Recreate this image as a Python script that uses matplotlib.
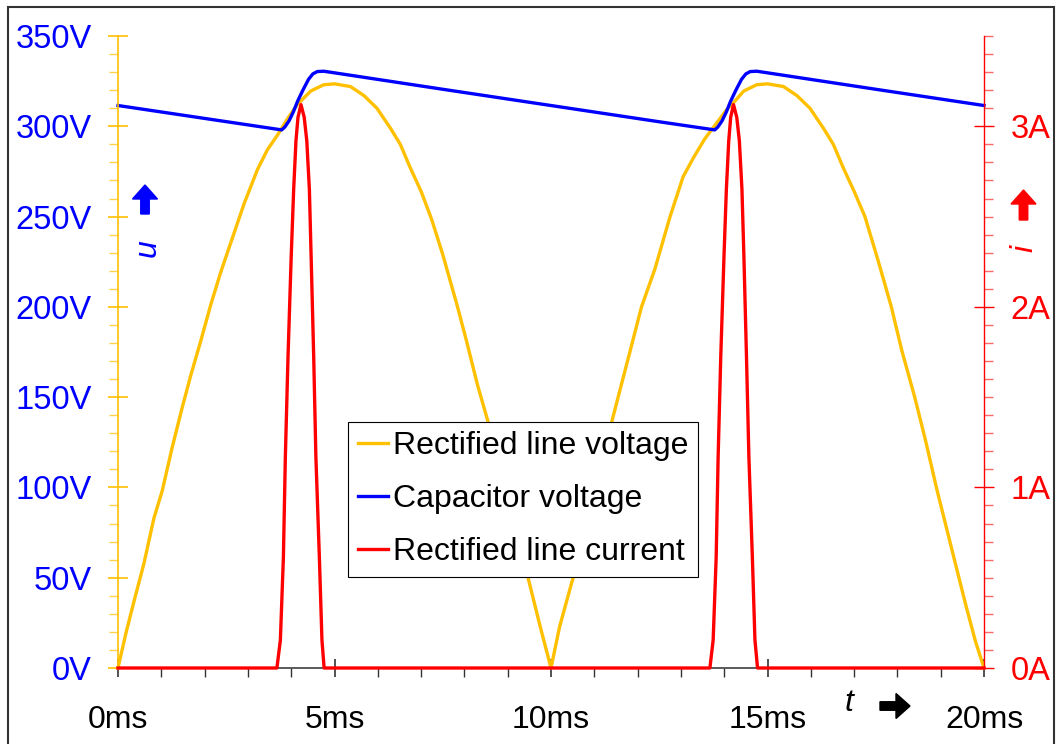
import numpy as np
import matplotlib
matplotlib.use("Agg")
import matplotlib.pyplot as plt
from matplotlib.ticker import MultipleLocator
from matplotlib.patches import FancyArrow, Rectangle

plt.rcParams['font.family'] = ['Liberation Sans', 'DejaVu Sans']

# --- data (time in ms) ---
line_v_t = [0, 0.18, 0.37, 0.6, 0.83, 1.02, 1.25, 1.48, 1.68, 1.91, 2.14, 2.37, 2.64, 2.91,
            3.22, 3.45, 3.68, 3.91, 4.14, 4.45, 4.75, 5.0, 5.37, 5.68, 5.98, 6.29, 6.52, 6.75,
            7.0, 7.25, 7.5, 7.83, 8.05, 8.3, 8.55, 8.8, 9.05, 9.25, 9.47, 9.75, 10.0,
            10.2, 10.51, 10.75, 11.0, 11.2, 11.4, 11.55, 11.8, 12.09, 12.4, 12.75, 13.05, 13.3,
            13.55, 13.8, 14.05, 14.25, 14.45, 14.75, 15.0, 15.37, 15.68, 15.98, 16.29, 16.52,
            16.75, 17.0, 17.25, 17.55, 17.86, 18.1, 18.4, 18.65, 18.9, 19.15, 19.4, 19.6, 19.8, 20.0]
line_v = [0, 19, 37, 58, 83, 98, 122, 144, 162, 181, 201, 219, 238, 257,
          276, 287, 295, 304, 312, 319.5, 323, 323.5, 322, 317, 310, 299, 290, 277,
          264, 248, 229, 201, 181, 157, 136, 113, 88, 68, 50, 23, 0,
          23, 50, 73, 97, 117, 136, 150, 173, 200, 221, 250, 272, 283,
          293, 301, 309, 314, 319.5, 323, 323.5, 322, 317, 310, 299, 290,
          277, 264, 250, 226, 200, 176, 150, 126, 100, 76, 52, 33, 15, 0]

cap_v_t = [0, 3.78, 3.85, 3.95, 4.05, 4.15, 4.27, 4.4, 4.5, 4.6, 4.75, 5.0, 7.5, 10.0, 12.5,
           13.78, 13.85, 13.95, 14.05, 14.15, 14.27, 14.4, 14.5, 14.6, 14.75, 15.0, 17.5, 20.0]
cap_v = [311.5, 298, 299.5, 303, 308, 314, 320, 326, 329, 330.3, 330.5, 329.6, 320.5, 311.5, 302.5,
         298, 299.5, 303, 308, 314, 320, 326, 329, 330.3, 330.5, 329.6, 320.5, 311.5]

cur_t = [0, 3.67, 3.75, 3.82, 3.865, 3.926, 4.0, 4.057, 4.11, 4.157, 4.226, 4.30, 4.36, 4.42,
         4.46, 4.52, 4.57, 4.65, 4.71, 4.76,
         13.67, 13.745, 13.815, 13.86, 13.92, 13.995, 14.05, 14.105, 14.15, 14.215, 14.29, 14.35,
         14.41, 14.455, 14.515, 14.57, 14.65, 14.71, 14.77, 20.0]
cur_i = [0, 0, 0.155, 0.616, 1.17, 1.72, 2.28, 2.65, 2.92, 3.05, 3.12, 3.05, 2.92, 2.65,
         2.28, 1.72, 1.17, 0.616, 0.155, 0,
         0, 0.155, 0.616, 1.17, 1.72, 2.28, 2.65, 2.92, 3.05, 3.12, 3.05, 2.92,
         2.65, 2.28, 1.72, 1.17, 0.616, 0.155, 0, 0]

x_ticks = [0, 5, 10, 15, 20]
x_labels = ['0ms', '5ms', '10ms', '15ms', '20ms']
v_ticks = [0, 50, 100, 150, 200, 250, 300, 350]
v_labels = ['0V', '50V', '100V', '150V', '200V', '250V', '300V', '350V']
i_ticks = [0, 1, 2, 3]
i_labels = ['0A', '1A', '2A', '3A']

YEL = '#FFC000'
W, H = 1056, 744

fig = plt.figure(figsize=(10.56, 7.44), dpi=100)
ax = fig.add_axes([118 / W, 1 - 668 / H, 866 / W, 632 / H])
ax2 = ax.twinx()

l1, = ax.plot(line_v_t, line_v, color=YEL, lw=2.4, clip_on=False, label='Rectified line voltage')
l2, = ax.plot(cap_v_t, cap_v, color='#0000FF', lw=2.4, clip_on=False, label='Capacitor voltage')
l3, = ax2.plot(cur_t, cur_i, color='#FF0000', lw=2.4, clip_on=False, label='Rectified line current')

ax.set_xlim(0, 20)
ax.set_ylim(0, 350)
ax2.set_ylim(0, 3.5)

for s in ['top', 'right']:
    ax.spines[s].set_visible(False)
for s in ['top', 'left', 'bottom']:
    ax2.spines[s].set_visible(False)
ax.spines['left'].set_color(YEL)
ax.spines['left'].set_linewidth(1.2)
ax.spines['bottom'].set_color('#404040')
ax.spines['bottom'].set_linewidth(1.2)
ax2.spines['right'].set_color('#FF0000')
ax2.spines['right'].set_linewidth(1.0)

ax.set_xticks(x_ticks)
ax.set_xticklabels(x_labels)
ax.xaxis.set_minor_locator(MultipleLocator(1))
ax.set_yticks(v_ticks)
ax.set_yticklabels(v_labels)
ax.yaxis.set_minor_locator(MultipleLocator(10))
ax2.set_yticks(i_ticks)
ax2.set_yticklabels(i_labels)
ax2.yaxis.set_minor_locator(MultipleLocator(0.1))

ax.tick_params(axis='x', which='major', direction='inout', length=13.5, width=1.2,
               color='#333333', labelsize=23, pad=20)
ax.tick_params(axis='x', which='minor', direction='out', length=6.5, width=1.0, color='#333333')
ax.tick_params(axis='y', which='major', direction='inout', length=15, width=1.2,
               color=YEL, labelcolor='#0000FF', labelsize=23.5, pad=11.5)
ax.tick_params(axis='y', which='minor', direction='out', length=6.5, width=1.0, color='#FFD24D')
ax2.tick_params(axis='y', which='major', direction='inout', length=15, width=1.0,
                color='#FF0000', labelcolor='#FF0000', labelsize=23.5, pad=11.5)
ax2.tick_params(axis='y', which='minor', direction='out', length=6.5, width=1.0, color='#FF6666')

leg = ax2.legend(handles=[l1, l2, l3], loc='lower left', bbox_to_anchor=(230 / 866, 91 / 632),
                 borderaxespad=0, fontsize=23, frameon=True, fancybox=False, framealpha=1,
                 edgecolor='black', borderpad=0.3, labelspacing=0.72, handlelength=0.95,
                 handletextpad=0.15)
leg.get_frame().set_linewidth(0.8)
leg.set_zorder(20)

# axis symbols and arrows
fig.text(148 / W, 1 - 248 / H, 'u', color='#0000FF', fontsize=23, style='italic',
         rotation=90, ha='center', va='center')
fig.text(1024 / W, 1 - 248 / H, 'i', color='#FF0000', fontsize=23, style='italic',
         rotation=90, ha='center', va='center')
fig.text(849 / W, 1 - 703 / H, 't', color='black', fontsize=23, style='italic',
         ha='center', va='center')

tr = fig.dpi_scale_trans
fig.add_artist(FancyArrow(1.45, (H - 214) / 100, 0, 0.29, width=0.085, head_width=0.25,
                          head_length=0.14, length_includes_head=True, color='#0000FF', transform=tr))
fig.add_artist(FancyArrow(10.235, (H - 220) / 100, 0, 0.30, width=0.085, head_width=0.25,
                          head_length=0.14, length_includes_head=True, color='#FF0000', transform=tr))
fig.add_artist(FancyArrow(8.80, (H - 706) / 100, 0.30, 0, width=0.085, head_width=0.25,
                          head_length=0.14, length_includes_head=True, color='black', transform=tr))

# outer frame
fig.add_artist(Rectangle((8 / W, -0.02), (1054 - 8) / W, (737 / H) + 0.02,
                         transform=fig.transFigure, fill=False, edgecolor='#333333', lw=1.5))

fig.savefig('out.png', dpi=100)
